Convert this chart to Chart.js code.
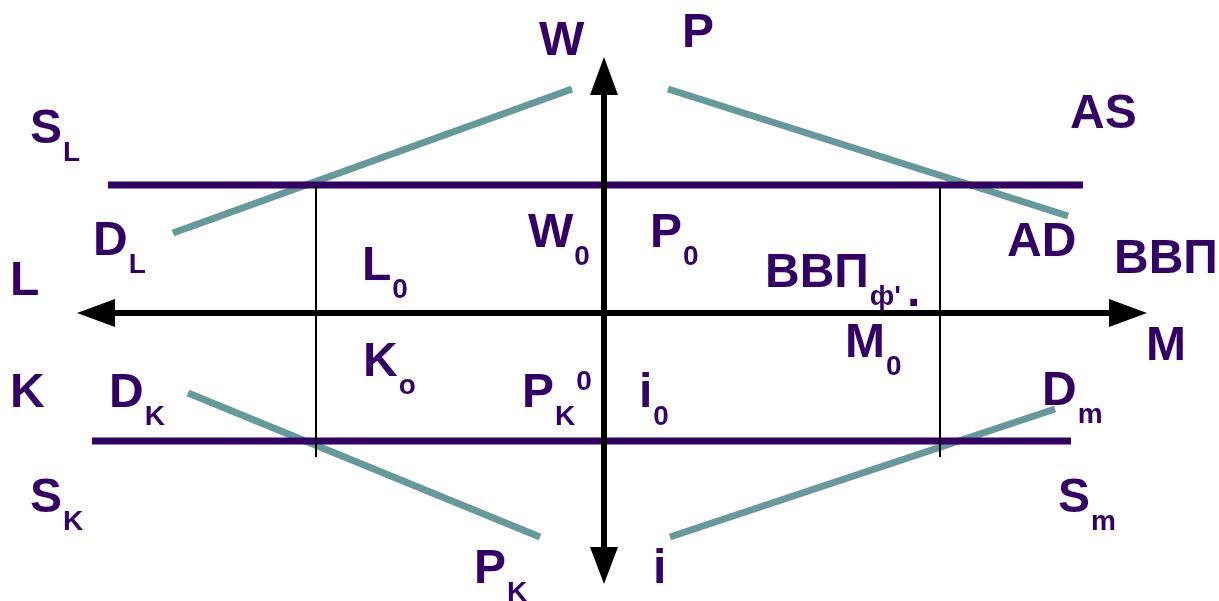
<!DOCTYPE html>
<html>
<head>
<meta charset="utf-8">
<script src="https://cdn.jsdelivr.net/npm/chart.js@4.4.1/dist/chart.umd.min.js"></script>
<style>
  html, body { margin: 0; padding: 0; background: #ffffff; }
  #wrap { width: 1219px; height: 601px; position: relative; }
</style>
</head>
<body>
<div id="wrap"><canvas id="diagram"></canvas></div>
<script>
// diagram units: x 0..1219 left to right, y 0..601 top to bottom

// demand curves (teal)
const curveDL = [{ x: 173, y: 233 }, { x: 572, y: 89 }];
const curveAD = [{ x: 668, y: 89 }, { x: 1068, y: 216 }];
const curveDK = [{ x: 188, y: 393 }, { x: 540, y: 537 }];
const curveDm = [{ x: 670, y: 537 }, { x: 1055, y: 409 }];

// supply levels (purple)
const supplyTop = [{ x: 108, y: 185 }, { x: 1083, y: 185 }];
const supplyBottom = [{ x: 92, y: 441 }, { x: 1071, y: 441 }];

// equilibrium guides (thin black)
const guideLeft = [{ x: 316, y: 185 }, { x: 316, y: 457 }];
const guideRight = [{ x: 940, y: 185 }, { x: 940, y: 457 }];

// axes and arrowheads
const axisH = [{ x: 115, y: 313 }, { x: 1109, y: 313 }];
const axisV = [{ x: 604, y: 95 }, { x: 604, y: 547 }];
const arrowLeft = [{ x: 77, y: 313 }, { x: 115, y: 299 }, { x: 115, y: 327 }, { x: 77, y: 313 }];
const arrowRight = [{ x: 1147, y: 313 }, { x: 1109, y: 299 }, { x: 1109, y: 327 }, { x: 1147, y: 313 }];
const arrowUp = [{ x: 604, y: 57 }, { x: 590, y: 95 }, { x: 618, y: 95 }, { x: 604, y: 57 }];
const arrowDown = [{ x: 604, y: 584 }, { x: 590, y: 547 }, { x: 618, y: 547 }, { x: 604, y: 584 }];

// text labels: main text, optional subscript / superscript
const labelTexts = [
  { t: "W", sub: "", sup: "" },
  { t: "P", sub: "", sup: "" },
  { t: "AS", sub: "", sup: "" },
  { t: "S", sub: "L", sup: "" },
  { t: "D", sub: "L", sup: "" },
  { t: "L", sub: "", sup: "" },
  { t: "L", sub: "0", sup: "" },
  { t: "W", sub: "0", sup: "" },
  { t: "P", sub: "0", sup: "" },
  { t: "ВВП", sub: "ф'", sup: "", tail: "." },
  { t: "AD", sub: "", sup: "" },
  { t: "ВВП", sub: "", sup: "" },
  { t: "M", sub: "", sup: "" },
  { t: "M", sub: "0", sup: "" },
  { t: "K", sub: "", sup: "" },
  { t: "D", sub: "K", sup: "" },
  { t: "K", sub: "o", sup: "" },
  { t: "P", sub: "K", sup: "0" },
  { t: "i", sub: "0", sup: "" },
  { t: "D", sub: "m", sup: "" },
  { t: "S", sub: "K", sup: "" },
  { t: "S", sub: "m", sup: "" },
  { t: "P", sub: "K", sup: "" },
  { t: "i", sub: "", sup: "" }
];
// anchor (left edge, baseline) of each label's main text
const labelAnchors = [
  [539, 55], [682, 47], [1070, 128], [30, 143], [93, 255], [10, 295],
  [362, 280], [528, 247], [650, 247], [765, 287], [1007, 256], [1114, 273],
  [1146, 360], [845, 357], [10, 407], [109, 407], [363, 376], [522, 407],
  [639, 407], [1042, 405], [30, 512], [1058, 512], [474, 583], [653, 583]
];

const PURPLE = "#330066";
const TEAL = "#669999";
const FONT = "'Liberation Sans', Arial, sans-serif";

function seg(data, color, width) {
  return {
    data: data,
    borderColor: color,
    borderWidth: width,
    pointRadius: 0,
    showLine: true,
    fill: false,
    tension: 0
  };
}

function head(data) {
  return {
    data: data,
    borderColor: "#000000",
    borderWidth: 0,
    backgroundColor: "#000000",
    pointRadius: 0,
    showLine: true,
    fill: "shape",
    tension: 0
  };
}

const labelPlugin = {
  id: "diagramLabels",
  afterDraw(chart) {
    const ctx = chart.ctx;
    const xs = chart.scales.x;
    const ys = chart.scales.y;
    ctx.save();
    ctx.fillStyle = PURPLE;
    ctx.textBaseline = "alphabetic";
    ctx.textAlign = "left";
    labelTexts.forEach((lab, i) => {
      const x = xs.getPixelForValue(labelAnchors[i][0]);
      const y = ys.getPixelForValue(labelAnchors[i][1]);
      ctx.font = "bold 48px " + FONT;
      ctx.fillText(lab.t, x, y);
      let cx = x + ctx.measureText(lab.t).width;
      if (lab.sub) {
        ctx.font = "bold 28px " + FONT;
        ctx.fillText(lab.sub, cx + 1, y + 18);
        cx += ctx.measureText(lab.sub).width + 1;
      }
      if (lab.sup) {
        ctx.font = "bold 28px " + FONT;
        ctx.fillText(lab.sup, cx + 1, y - 17);
      }
      if (lab.tail) {
        ctx.font = "bold 48px " + FONT;
        ctx.fillText(lab.tail, cx + 6, y + 19);
      }
    });
    ctx.restore();
  }
};

new Chart(document.getElementById("diagram"), {
  type: "scatter",
  data: {
    datasets: [
      seg(guideLeft, "#000000", 2),
      seg(guideRight, "#000000", 2),
      seg(axisH, "#000000", 6),
      seg(axisV, "#000000", 6),
      head(arrowLeft),
      head(arrowRight),
      head(arrowUp),
      head(arrowDown),
      seg(supplyTop, PURPLE, 7),
      seg(supplyBottom, PURPLE, 7),
      seg(curveDL, TEAL, 7),
      seg(curveAD, TEAL, 7),
      seg(curveDK, TEAL, 7),
      seg(curveDm, TEAL, 7)
    ]
  },
  options: {
    responsive: true,
    maintainAspectRatio: false,
    animation: false,
    events: [],
    layout: { padding: 0 },
    plugins: {
      legend: { display: false },
      tooltip: { enabled: false }
    },
    scales: {
      x: { type: "linear", min: 0, max: 1219, display: false },
      y: { type: "linear", min: 0, max: 601, reverse: true, display: false }
    }
  },
  plugins: [labelPlugin]
});
</script>
</body>
</html>
